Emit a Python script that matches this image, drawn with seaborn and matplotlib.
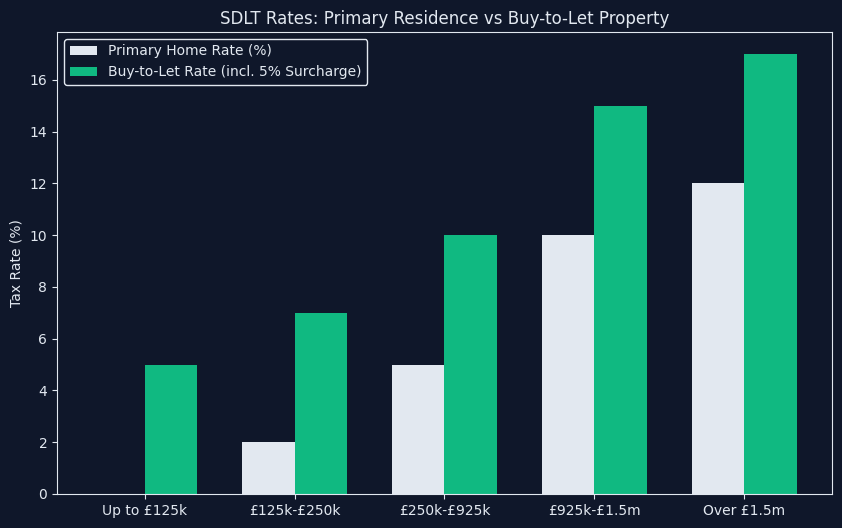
import pandas as pd
import matplotlib
matplotlib.use("Agg")
import matplotlib.pyplot as plt
import seaborn as sns

# Faixas de valor e taxas SDLT
faixas = ["Up to £125k", "£125k-£250k", "£250k-£925k", "£925k-£1.5m", "Over £1.5m"]
taxa_principal = [0, 2, 5, 10, 12]
taxa_btl = [5, 7, 10, 15, 17]

serie_principal = "Primary Home Rate (%)"
serie_btl = "Buy-to-Let Rate (incl. 5% Surcharge)"

df = pd.DataFrame({
    "Faixa": faixas * 2,
    "Taxa": taxa_principal + taxa_btl,
    "Serie": [serie_principal] * len(faixas) + [serie_btl] * len(faixas),
})

fundo = "#0f172a"
texto = "#e2e8f0"

plt.rcParams.update({
    "figure.facecolor": fundo,
    "axes.facecolor": fundo,
    "axes.edgecolor": texto,
    "axes.labelcolor": texto,
    "xtick.color": texto,
    "ytick.color": texto,
    "text.color": texto,
})

fig, ax = plt.subplots(figsize=(8.42, 5.28), dpi=100)
sns.barplot(data=df, x="Faixa", y="Taxa", hue="Serie",
            palette=["#e2e8f0", "#10b981"], width=0.7,
            saturation=1, ax=ax)

ax.set_title("SDLT Rates: Primary Residence vs Buy-to-Let Property", fontsize=12, color=texto)
ax.set_xlabel("")
ax.set_ylabel("Tax Rate (%)")
# margens padrão do matplotlib em x
n = len(faixas)
ax.set_xlim(-0.35 - 0.05 * (n - 1 + 0.7), n - 1 + 0.35 + 0.05 * (n - 1 + 0.7))
for s in ax.spines.values():
    s.set_color(texto)

leg = ax.legend(loc="upper left", facecolor=fundo, edgecolor=texto, framealpha=1)
for t in leg.get_texts():
    t.set_color(texto)

plt.subplots_adjust(left=0.0677, right=0.988, top=0.9394, bottom=0.0644)
plt.savefig("out.png", facecolor=fundo)
